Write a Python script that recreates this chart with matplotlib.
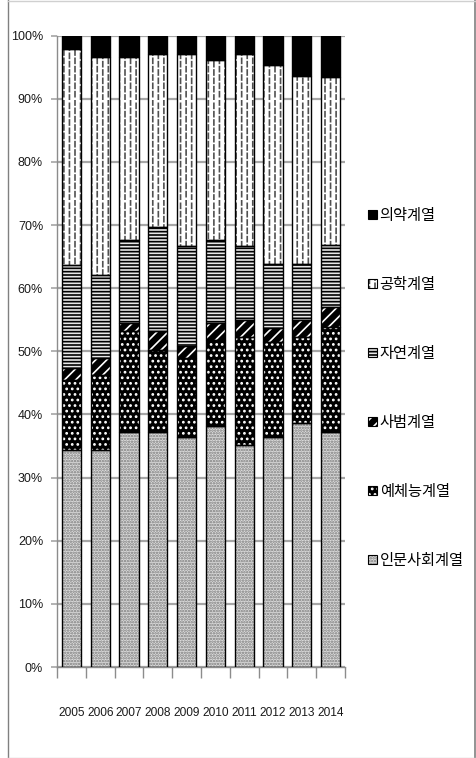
import numpy as np
import matplotlib
matplotlib.use("Agg")
import matplotlib.pyplot as plt
import matplotlib.hatch as mhatch
from matplotlib import font_manager
from matplotlib.patches import Patch
from matplotlib.lines import Line2D
from matplotlib.legend_handler import HandlerTuple
from matplotlib.ticker import FixedLocator, PercentFormatter

# ---- data (share of graduates by field, %) ----
years = ["2005", "2006", "2007", "2008", "2009", "2010", "2011", "2012", "2013", "2014"]
humanities = [34.3, 34.3, 37.3, 37.3, 36.4, 38.1, 35.2, 36.5, 38.6, 37.3]   # 인문사회계열
arts_pe = [11.2, 12.0, 16.0, 12.9, 12.5, 13.7, 17.1, 15.0, 13.7, 16.6]      # 예체능계열
education = [1.8, 2.6, 1.2, 3.1, 1.9, 2.7, 2.7, 2.2, 2.7, 3.2]              # 사범계열
natural = [16.4, 13.2, 13.1, 16.4, 15.9, 13.2, 11.7, 10.1, 8.8, 9.8]        # 자연계열
engineering = [34.2, 34.5, 29.0, 27.4, 30.4, 28.4, 30.4, 31.6, 29.8, 26.6]  # 공학계열
medical = [2.1, 3.4, 3.4, 2.9, 2.9, 3.9, 2.9, 4.6, 6.4, 6.5]                # 의약계열

series_names = ["인문사회계열", "예체능계열", "사범계열", "자연계열", "공학계열", "의약계열"]
series_values = [humanities, arts_pe, education, natural, engineering, medical]


# Vertical dashed hatch: replaces the solid '|' hatch with staggered dashes.
class DashedVerticalHatch(mhatch.HatchPatternBase):
    rows = 12

    def __init__(self, hatch, density):
        self.num_cols = (hatch.count('|') + hatch.count('+')) * density
        self.num_vertices = self.num_cols * self.rows * 2

    def set_vertices_and_codes(self, vertices, codes):
        k = 0
        for c in range(self.num_cols):
            x = (c + 0.5) / self.num_cols
            shift = 0.4 if c % 2 else 0.0
            for r in range(self.rows):
                y0 = (r + shift) / self.rows
                y1 = y0 + 0.6 / self.rows
                vertices[k] = (x, y0)
                vertices[k + 1] = (x, y1)
                codes[k] = mhatch.Path.MOVETO
                codes[k + 1] = mhatch.Path.LINETO
                k += 2


mhatch._hatch_types = [DashedVerticalHatch if t is mhatch.VerticalHatch else t
                       for t in mhatch._hatch_types]


def narrow_font():
    """Pick the narrowest installed Latin family for the axis numbers."""
    for fam, size in [("Liberation Sans Narrow", 10.5), ("DejaVu Sans Condensed", 9.5)]:
        try:
            font_manager.findfont(font_manager.FontProperties(family=fam),
                                  fallback_to_default=False)
            return fam, size
        except Exception:
            pass
    return "Liberation Sans", 8.6


num_family, num_size = narrow_font()

plt.rcParams['font.family'] = ['Noto Sans CJK KR', 'DejaVu Sans']
plt.rcParams['hatch.linewidth'] = 1.2

# face colour, hatch colour, hatch pattern for each field
styles = [
    ("#dcdcdc", "#7a7a7a", "......"),
    ("#000000", "#ffffff", "..."),
    ("#000000", "#ffffff", "///"),
    ("#e8e8e8", "#000000", "-----"),
    ("#ffffff", "#505050", "|||"),
    ("#000000", "#000000", ""),
]

fig = plt.figure(figsize=(4.77, 7.58), dpi=100)
W, H = 477, 758
ax = fig.add_axes([57 / W, 91 / H, 288 / W, 631.3 / H])

x = np.arange(len(years))
bw = 0.66
bottom = np.zeros(len(years))
handles = []
for name, vals, (fc, hc, hp) in zip(series_names, series_values, styles):
    vals = np.array(vals)
    ax.bar(x, vals, bw, bottom=bottom, color=fc, edgecolor=hc, linewidth=0,
           hatch=hp, zorder=2)
    ax.bar(x, vals, bw, bottom=bottom, fill=False, edgecolor="black",
           linewidth=1.0, zorder=3)
    handles.append((Patch(facecolor=fc, edgecolor=hc, hatch=hp, linewidth=0),
                    Patch(fill=False, edgecolor="black", linewidth=0.8)))
    bottom += vals

ax.set_xlim(-0.5, len(years) - 0.5)
ax.set_ylim(0, 100)

# y axis
ax.yaxis.set_major_locator(FixedLocator(np.arange(0, 101, 10)))
ax.yaxis.set_major_formatter(PercentFormatter(decimals=0))
ax.grid(axis="y", color="#a6a6a6", linewidth=1.6, zorder=0)
ax.set_axisbelow(True)
ax.tick_params(axis="y", direction="out", length=4, color="#a6a6a6", width=1.2,
               pad=6, labelsize=num_size + 0.4, labelcolor="#1a1a1a")

# x axis: labels at bar centres, tick marks between categories
ax.set_xticks(x)
ax.set_xticklabels(years)
ax.set_xticks(np.arange(-0.5, len(years), 1.0), minor=True)
ax.tick_params(axis="x", which="major", length=0, pad=29, labelsize=num_size,
               labelcolor="#1a1a1a")
ax.tick_params(axis="x", which="minor", direction="out", length=8,
               color="#8c8c8c", width=1.0)
for lab in ax.get_xticklabels() + ax.get_yticklabels():
    lab.set_fontfamily([num_family, 'DejaVu Sans'])

for s in ["top", "right"]:
    ax.spines[s].set_visible(False)
for s in ["left", "bottom"]:
    ax.spines[s].set_color("#8c8c8c")
    ax.spines[s].set_linewidth(1.0)

# legend, top entry = top segment
fig.legend(handles[::-1], series_names[::-1], loc="upper left",
           bbox_to_anchor=(362 / W, 1 - 201 / H), frameon=False,
           fontsize=11, handlelength=0.55, handleheight=0.55,
           handletextpad=0.2, labelspacing=3.4, borderaxespad=0,
           handler_map={tuple: HandlerTuple(ndivide=1, pad=0)})

# chart frame
fig.add_artist(Line2D([8.5 / W, 8.5 / W], [0, 1], color="#808080", lw=1.0))
fig.add_artist(Line2D([475.5 / W, 475.5 / W], [0, 1], color="#808080", lw=1.2))
fig.add_artist(Line2D([8.5 / W, 1], [1 - 0.5 / H, 1 - 0.5 / H], color="#d0d0d0", lw=1.0))
fig.add_artist(Line2D([8.5 / W, 1], [0.5 / H, 0.5 / H], color="#d0d0d0", lw=1.0))

fig.savefig("out.png", dpi=100)
